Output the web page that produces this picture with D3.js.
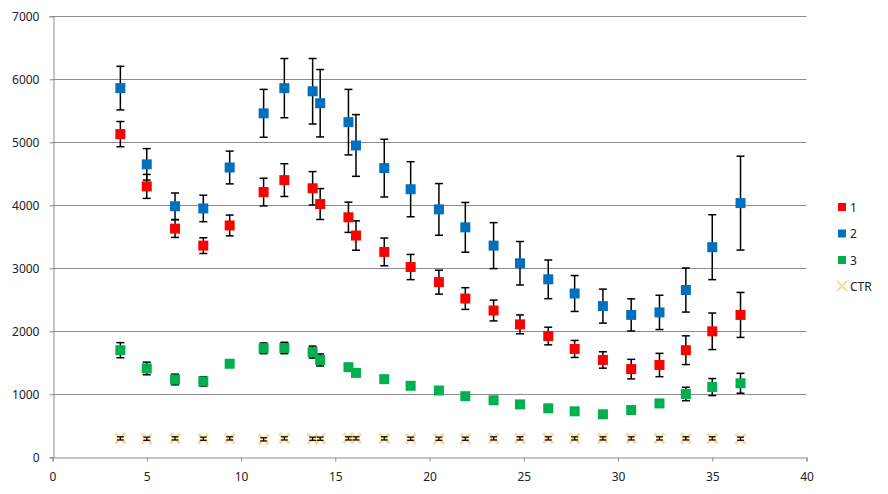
<!DOCTYPE html>
<html>
<head>
<meta charset="utf-8">
<script src="https://cdn.jsdelivr.net/npm/d3@7"></script>
<style>
  body { margin: 0; background: white; }
  text { font-family: 'Noto Sans', 'DejaVu Sans', sans-serif; font-size: 12px; fill: #222; }
</style>
</head>
<body>
<div id="chart"></div>
<script>
// Data
let xValues = [3.6, 5.0, 6.5, 8.0, 9.4, 11.2, 12.3, 13.8, 14.2, 15.7, 16.1, 17.6, 19.0,
  20.5, 21.9, 23.4, 24.8, 26.3, 27.7, 29.2, 30.7, 32.2, 33.6, 35.0, 36.5]

let series1 = [5130, 4300, 3630, 3360, 3680, 4210, 4400, 4270, 4020, 3810, 3520, 3260, 3020,
  2780, 2520, 2330, 2110, 1925, 1720, 1545, 1400, 1465, 1700, 2000, 2260]
let series1Err = [200, 190, 140, 125, 165, 220, 260, 265, 245, 240, 233, 220, 200,
  190, 172, 165, 150, 140, 135, 130, 155, 185, 228, 290, 357]

let series2 = [5860, 4650, 3985, 3950, 4600, 5460, 5860, 5810, 5620, 5320, 4950, 4590, 4255,
  3935, 3650, 3360, 3080, 2825, 2600, 2400, 2260, 2300, 2655, 3335, 4035]
let series2Err = [346, 250, 210, 210, 260, 380, 470, 520, 535, 520, 490, 458, 437,
  410, 395, 365, 345, 307, 285, 270, 255, 272, 350, 515, 745]

let series3 = [1700, 1410, 1235, 1205, 1485, 1730, 1735, 1670, 1545, 1430, 1340, 1240, 1135,
  1060, 970, 905, 840, 778, 730, 683, 750, 855, 1005, 1115, 1175]
let series3Err = [120, 100, 85, 75, 40, 85, 90, 95, 95, 50, 50, 30, 40,
  30, 20, 40, 20, 20, 20, 20, 20, 40, 107, 135, 158]

let ctr = [300, 295, 300, 295, 300, 285, 300, 295, 295, 300, 300, 300, 295,
  295, 295, 300, 300, 300, 300, 300, 300, 300, 300, 300, 295]
let ctrErr = [25, 25, 25, 25, 25, 25, 25, 25, 25, 25, 25, 25, 25,
  25, 25, 25, 25, 25, 25, 25, 25, 25, 25, 25, 25]

let xTicks = [0, 5, 10, 15, 20, 25, 30, 35, 40]
let yTicks = [0, 1000, 2000, 3000, 4000, 5000, 6000, 7000]

let seriesNames = ['1', '2', '3', 'CTR']
let seriesColors = ['#ff0000', '#0070c0', '#00b050', '#f7dc9c']

// Setup
let width = 888
let height = 494
let plot = { left: 52.5, right: 806.5, top: 16.3, bottom: 457.3 }

let svg = d3.select('#chart')
  .append('svg')
  .attr('width', width)
  .attr('height', height)

let x = d3.scaleLinear().domain([0, 40]).range([plot.left, plot.right])
let y = d3.scaleLinear().domain([0, 7000]).range([plot.bottom, plot.top])

// Gridlines
svg.selectAll('line.grid')
  .data(yTicks.slice(1))
  .enter()
  .append('line')
  .attr('class', 'grid')
  .attr('x1', plot.left)
  .attr('x2', plot.right)
  .attr('y1', d => Math.round(y(d)) + 0.5)
  .attr('y2', d => Math.round(y(d)) + 0.5)
  .attr('stroke', '#8c8c8c')
  .attr('stroke-width', 1)

// Axes
let xAxis = d3.axisBottom(x).tickValues(xTicks).tickSize(4).tickPadding(11).tickFormat(d3.format('d'))
let yAxis = d3.axisLeft(y).tickValues(yTicks).tickSize(4).tickPadding(10).tickFormat(d3.format('d'))

let gx = svg.append('g')
  .attr('transform', `translate(0, ${Math.round(plot.bottom) + 0.5})`)
  .call(xAxis)
let gy = svg.append('g')
  .attr('transform', `translate(${Math.round(plot.left) + 0.5}, 0)`)
  .call(yAxis)

;[gx, gy].forEach(g => {
  g.select('.domain').attr('stroke', '#8c8c8c')
  g.selectAll('.tick line').attr('stroke', '#8c8c8c')
  g.selectAll('.tick text')
    .style('font-family', "'Noto Sans', 'DejaVu Sans', sans-serif")
    .style('font-size', '12px')
    .attr('fill', '#222')
})

// Error bars
function drawErrorBars(values, errors, cap, strokeWidth) {
  let g = svg.append('g')
  let rows = xValues.map((xv, i) => ({ x: xv, y: values[i], e: errors[i] }))
  g.selectAll('line.bar')
    .data(rows)
    .enter()
    .append('line')
    .attr('x1', d => x(d.x))
    .attr('x2', d => x(d.x))
    .attr('y1', d => y(d.y - d.e))
    .attr('y2', d => y(d.y + d.e))
    .attr('stroke', 'black')
    .attr('stroke-width', strokeWidth)
  ;['top', 'bottom'].forEach(side => {
    g.selectAll('line.cap-' + side)
      .data(rows)
      .enter()
      .append('line')
      .attr('x1', d => x(d.x) - cap)
      .attr('x2', d => x(d.x) + cap)
      .attr('y1', d => y(side === 'top' ? d.y + d.e : d.y - d.e))
      .attr('y2', d => y(side === 'top' ? d.y + d.e : d.y - d.e))
      .attr('stroke', 'black')
      .attr('stroke-width', strokeWidth)
  })
}

function drawSquares(values, color) {
  svg.append('g')
    .selectAll('rect')
    .data(xValues.map((xv, i) => ({ x: xv, y: values[i] })))
    .enter()
    .append('rect')
    .attr('x', d => x(d.x) - 5)
    .attr('y', d => y(d.y) - 5)
    .attr('width', 10)
    .attr('height', 10)
    .attr('fill', color)
}

// CTR: pale crosses with tiny error bars
let ctrRows = xValues.map((xv, i) => ({ x: xv, y: ctr[i] }))
svg.append('g')
  .selectAll('path')
  .data(ctrRows)
  .enter()
  .append('path')
  .attr('d', d => {
    let cx = x(d.x), cy = y(d.y), r = 5
    return `M ${cx - r} ${cy - r} L ${cx + r} ${cy + r} M ${cx - r} ${cy + r} L ${cx + r} ${cy - r}`
  })
  .attr('stroke', seriesColors[3])
  .attr('stroke-width', 3)
  .attr('fill', 'none')
drawErrorBars(ctr, ctrErr, 3.5, 1.2)

drawErrorBars(series3, series3Err, 4, 1.5)
drawSquares(series3, seriesColors[2])
drawErrorBars(series1, series1Err, 4, 1.5)
drawSquares(series1, seriesColors[0])
drawErrorBars(series2, series2Err, 4, 1.5)
drawSquares(series2, seriesColors[1])

// Legend
let legendY = [207, 233.5, 260, 286]
let legend = svg.append('g')
seriesNames.forEach((name, i) => {
  if (i < 3) {
    legend.append('rect')
      .attr('x', 838)
      .attr('y', legendY[i] - 4)
      .attr('width', 8)
      .attr('height', 8)
      .attr('fill', seriesColors[i])
  } else {
    legend.append('path')
      .attr('d', `M 837 ${legendY[i] - 5} L 847 ${legendY[i] + 5} M 837 ${legendY[i] + 5} L 847 ${legendY[i] - 5}`)
      .attr('stroke', seriesColors[i])
      .attr('stroke-width', 2)
  }
  legend.append('text')
    .attr('x', 850)
    .attr('y', legendY[i] + 4.5)
    .text(name)
})
</script>
</body>
</html>
